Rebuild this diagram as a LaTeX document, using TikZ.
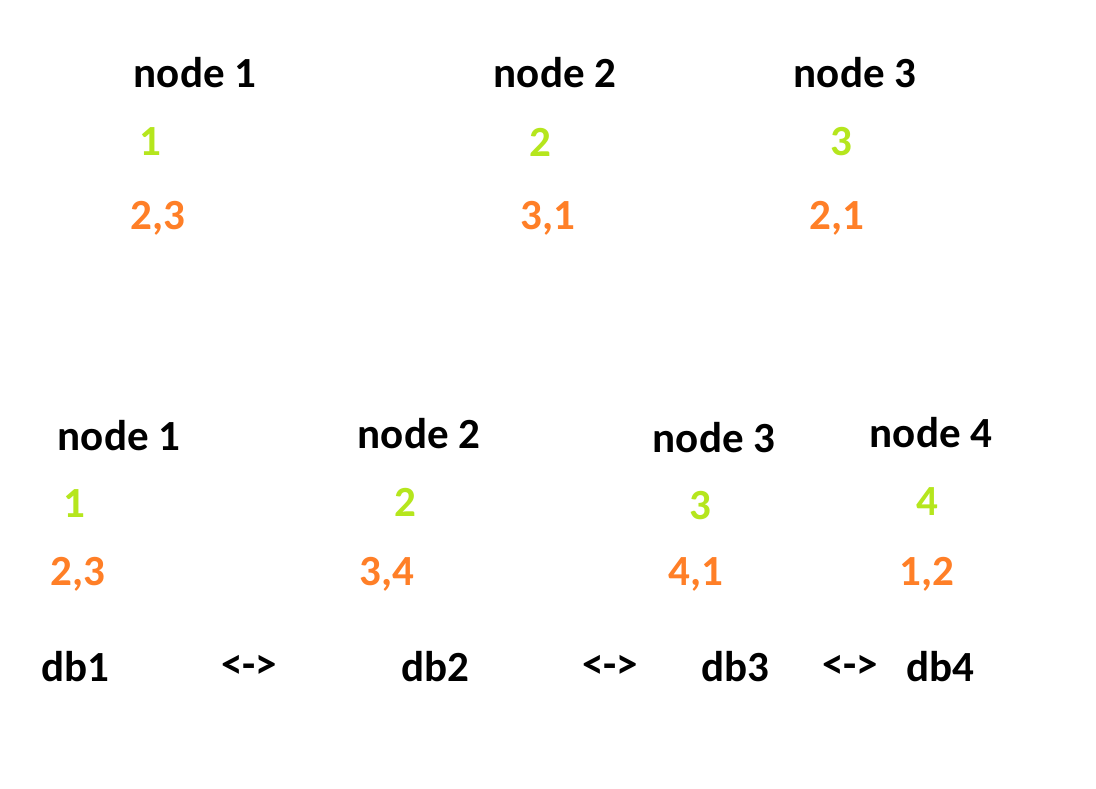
\documentclass[tikz,border=0pt]{standalone}
\usepackage{fontspec}
\setmainfont{Carlito}
\definecolor{ownclr}{HTML}{B5E61D}
\definecolor{peerclr}{HTML}{FF7F27}
\tikzset{
  lbl/.style={inner sep=0pt, font=\fontsize{43}{50}\selectfont\bfseries},
  hdr/.style={lbl, text=black},
  own/.style={lbl, text=ownclr},
  peer/.style={lbl, text=peerclr},
}
\begin{document}
\begin{tikzpicture}[x=1pt, y=-1pt]
			%%%%% START %%%%%
			\useasboundingbox[fill=white] (0,0) rectangle (1096,788);
			
			% three nodes
			\node[hdr] (ta) at (195, 73) {node 1};
			\node[own] (tao) at (150, 142) {1};
			\node[peer] (tap) at (158, 218) {2,3};
			
			\node[hdr] (tb) at (555, 73) {node 2};
			\node[own] (tbo) at (540, 142) {2};
			\node[peer] (tbp) at (548, 218) {3,1};
			
			\node[hdr] (tc) at (855, 73) {node 3};
			\node[own] (tco) at (841, 142) {3};
			\node[peer] (tcp) at (837, 218) {2,1};
			
			% four nodes
			\node[hdr] (ba) at (119, 436) {node 1};
			\node[own] (bao) at (74, 504) {1};
			\node[peer] (bap) at (78, 574) {2,3};
			
			\node[hdr] (bb) at (419, 434) {node 2};
			\node[own] (bbo) at (405, 502) {2};
			\node[peer] (bbp) at (387, 574) {3,4};
			
			\node[hdr] (bc) at (714, 438) {node 3};
			\node[own] (bco) at (700, 506) {3};
			\node[peer] (bcp) at (696, 574) {4,1};
			
			\node[hdr] (bd) at (931, 433) {node 4};
			\node[own] (bdo) at (927, 502) {4};
			\node[peer] (bdp) at (927, 574) {1,2};
			
			% databases
			\node[hdr] (dba) at (75, 667) {db1};
			\node[hdr] (lab) at (249, 667) {<->};
			\node[hdr] (dbb) at (435, 667) {db2};
			\node[hdr] (lbc) at (610, 667) {<->};
			\node[hdr] (dbc) at (735, 667) {db3};
			\node[hdr] (lcd) at (850, 667) {<->};
			\node[hdr] (dbd) at (940, 667) {db4};
			
			%%%%% END %%%%%
\end{tikzpicture}
\end{document}
